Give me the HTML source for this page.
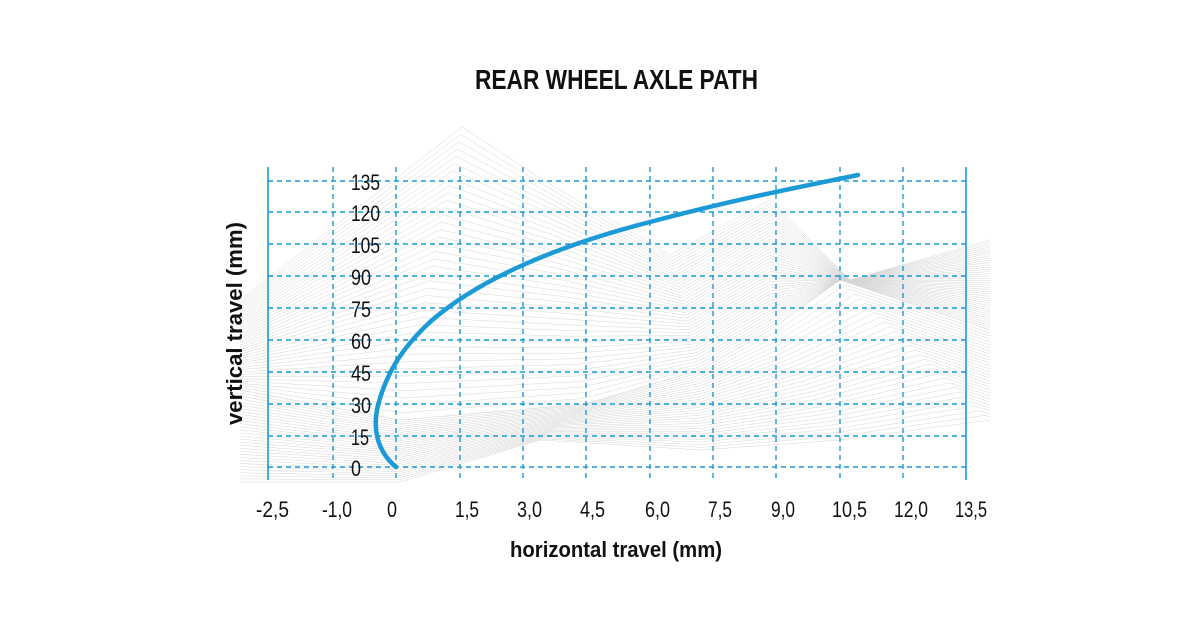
<!DOCTYPE html>
<html><head><meta charset="utf-8"><style>
body{margin:0;background:#fff;}
svg{display:block}
text{font-family:"Liberation Sans Narrow","Liberation Sans",sans-serif;fill:#111}
</style></head><body>
<svg id="s" width="1200" height="628" viewBox="0 0 1200 628">
<g id="fan" fill="none" stroke="#d6d6d6" stroke-width="0.5"></g>
<g stroke="#1b9ad6" stroke-width="1.4" stroke-dasharray="5,4" fill="none">
<line x1="333" y1="167" x2="333" y2="480"/><line x1="396" y1="167" x2="396" y2="480"/>
<line x1="460" y1="167" x2="460" y2="480"/><line x1="523" y1="167" x2="523" y2="480"/>
<line x1="586" y1="167" x2="586" y2="480"/><line x1="650" y1="167" x2="650" y2="480"/>
<line x1="713" y1="167" x2="713" y2="480"/><line x1="776" y1="167" x2="776" y2="480"/>
<line x1="840" y1="167" x2="840" y2="480"/><line x1="903" y1="167" x2="903" y2="480"/>
<line x1="268" y1="181" x2="966" y2="181"/><line x1="268" y1="212" x2="966" y2="212"/>
<line x1="268" y1="244" x2="966" y2="244"/><line x1="268" y1="276" x2="966" y2="276"/>
<line x1="268" y1="308" x2="966" y2="308"/><line x1="268" y1="340" x2="966" y2="340"/>
<line x1="268" y1="372" x2="966" y2="372"/><line x1="268" y1="404" x2="966" y2="404"/>
<line x1="268" y1="436" x2="966" y2="436"/><line x1="268" y1="467" x2="966" y2="467"/>
</g>
<g stroke="#1b9ad6" stroke-width="1.6"><line x1="268" y1="167" x2="268" y2="480"/><line x1="966" y1="167" x2="966" y2="480"/></g>
<g font-size="22">
<text x="351" y="190" textLength="29" lengthAdjust="spacingAndGlyphs">135</text>
<text x="351" y="221" textLength="29" lengthAdjust="spacingAndGlyphs">120</text>
<text x="351" y="253" textLength="29" lengthAdjust="spacingAndGlyphs">105</text>
<text x="351" y="285" textLength="20" lengthAdjust="spacingAndGlyphs">90</text>
<text x="351" y="317" textLength="20" lengthAdjust="spacingAndGlyphs">75</text>
<text x="351" y="349" textLength="20" lengthAdjust="spacingAndGlyphs">60</text>
<text x="351" y="381" textLength="20" lengthAdjust="spacingAndGlyphs">45</text>
<text x="351" y="413" textLength="20" lengthAdjust="spacingAndGlyphs">30</text>
<text x="351" y="445" textLength="18" lengthAdjust="spacingAndGlyphs">15</text>
<text x="351" y="476" textLength="10" lengthAdjust="spacingAndGlyphs">0</text>
</g>
<g font-size="22">
<text x="256" y="517" textLength="33" lengthAdjust="spacingAndGlyphs">-2,5</text>
<text x="322" y="517" textLength="30" lengthAdjust="spacingAndGlyphs">-1,0</text>
<text x="387" y="517" textLength="10" lengthAdjust="spacingAndGlyphs">0</text>
<text x="455" y="517" textLength="24" lengthAdjust="spacingAndGlyphs">1,5</text>
<text x="517" y="517" textLength="25" lengthAdjust="spacingAndGlyphs">3,0</text>
<text x="580" y="517" textLength="25" lengthAdjust="spacingAndGlyphs">4,5</text>
<text x="645" y="517" textLength="25" lengthAdjust="spacingAndGlyphs">6,0</text>
<text x="708" y="517" textLength="24" lengthAdjust="spacingAndGlyphs">7,5</text>
<text x="771" y="517" textLength="24" lengthAdjust="spacingAndGlyphs">9,0</text>
<text x="832" y="517" textLength="35" lengthAdjust="spacingAndGlyphs">10,5</text>
<text x="894" y="517" textLength="34" lengthAdjust="spacingAndGlyphs">12,0</text>
<text x="955" y="517" textLength="32" lengthAdjust="spacingAndGlyphs">13,5</text>
</g>
<path d="M396,467 C378,452 372,430 378,405 C386,375 400,350 430,322 C480,278 560,245 650,222 C740,198 810,185 858,175" fill="none" stroke="#1b9ad6" stroke-width="4.5" stroke-linecap="round"/>
<text x="475" y="89" font-size="28" font-weight="bold" textLength="283" lengthAdjust="spacingAndGlyphs">REAR WHEEL AXLE PATH</text>
<text x="510" y="557" font-size="22" font-weight="bold" textLength="212" lengthAdjust="spacingAndGlyphs">horizontal travel (mm)</text>
<text transform="translate(242,425) rotate(-90)" font-size="22" font-weight="bold" textLength="203" lengthAdjust="spacingAndGlyphs">vertical travel (mm)</text>
</svg>
<script>
var topL=[[240,300],[462,127],[540,178],[670,255],[770,200],[850,280],[990,240]];
var midL=[[240,390],[400,420],[585,404],[700,370],[770,330],[840,280],[990,330]];
var botL=[[240,482],[400,482],[540,440],[700,450],[840,440],[990,420]];
var g=document.getElementById('fan');
function lerp(a,b,t){var r=[];for(var i=0;i<a.length;i++){var p=a[i],q=b[Math.min(i,b.length-1)];r.push((p[0]+(q[0]-p[0])*t).toFixed(1)+','+(p[1]+(q[1]-p[1])*t).toFixed(1));}return r;}
var s='';
for(var i=0;i<=40;i++){s+='<polyline points="'+lerp(topL,midL,i/40).join(' ')+'"/>';}
for(var i=0;i<=30;i++){s+='<polyline points="'+lerp(midL,botL,i/30).join(' ')+'"/>';}
g.innerHTML=s;
</script>
</body></html>
